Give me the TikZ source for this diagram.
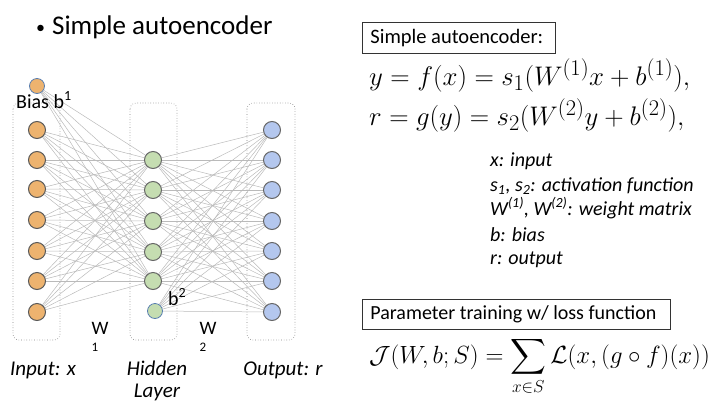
\documentclass[tikz,border=0pt]{standalone}
\usepackage{fontspec}
\setmainfont{Carlito}
\usepackage{amsmath}
\usepackage{graphicx}
\pgfdeclarelayer{bg}
\pgfsetlayers{bg,main}
\begin{document}
\begin{tikzpicture}[x=1pt,y=-1pt,
  inp/.style={circle,draw=black!65,line width=1pt,minimum size=17pt,inner sep=0pt},
  hid/.style={circle,draw=black!60,line width=1pt,minimum size=17pt,inner sep=0pt},
  outn/.style={circle,draw=black!60,line width=1pt,minimum size=17pt,inner sep=0pt},
  bias/.style={circle,draw=biasborder,line width=0.8pt,minimum size=15pt,inner sep=0pt},
  edge/.style={draw=black!27,line width=0.5pt},
  layerbox/.style={draw=black!50,dotted,rounded corners=6pt,line width=0.6pt},
  lbl/.style={font=\fontsize{21}{22}\selectfont\itshape,inner sep=0pt},
  wlbl/.style={font=\fontsize{19}{20}\selectfont,inner sep=0pt},
  titlebox/.style={draw=black!80,line width=0.8pt,inner xsep=8pt,inner ysep=0pt,font=\fontsize{20.5}{22}\selectfont,anchor=north west},
  note/.style={font=\fontsize{20}{22}\selectfont\itshape,inner sep=0pt,anchor=base west},
  eq/.style={inner sep=0pt,anchor=base west,font=\fontsize{24.88}{28}\selectfont}
]
\definecolor{inpfill}{HTML}{EDB36F}
\definecolor{hidfill}{HTML}{C5DDB1}
\definecolor{outfill}{HTML}{B4C7EE}
\definecolor{biasborder}{HTML}{5A7FB0}
\useasboundingbox (0,0) rectangle (713,408);

% title
\node[anchor=base west,inner sep=0pt,font=\fontsize{27}{30}\selectfont] (title) at (36,34) {\raisebox{1pt}{\fontsize{18}{18}\selectfont•}\hspace{7pt}Simple autoencoder};

% nodes
\node[bias,fill=inpfill] (b1) at (37,86) {};
\foreach \i/\y in {1/130,2/160,3/189,4/220,5/251,6/281,7/312}
  \node[inp,fill=inpfill] (i\i) at (37,\y) {};
\foreach \i/\y in {1/160,2/190,3/221,4/252,5/281}
  \node[hid,fill=hidfill] (h\i) at (153,\y) {};
\node[bias,fill=hidfill] (b2) at (155,311) {};
\foreach \i/\y in {1/130,2/160,3/190,4/221,5/251,6/281,7/312}
  \node[outn,fill=outfill] (o\i) at (272,\y) {};

\begin{pgfonlayer}{bg}
% layer boxes
\draw[layerbox] (13,103) rectangle (60,340);
\draw[layerbox] (130,103) rectangle (177,340);
\draw[layerbox] (247,103) rectangle (295,340);
% edges
\foreach \a in {b1,i1,i2,i3,i4,i5,i6,i7}
  \foreach \b in {h1,h2,h3,h4,h5}
    \draw[edge] (\a) -- (\b);
\foreach \a in {h1,h2,h3,h4,h5,b2}
  \foreach \b in {o1,o2,o3,o4,o5,o6,o7}
    \draw[edge] (\a) -- (\b);
\end{pgfonlayer}

% labels
\node[font=\fontsize{20}{22}\selectfont,inner sep=0pt,anchor=base west] (bl1) at (16,108) {Bias b\textsuperscript{1}};
\node[font=\fontsize{20}{22}\selectfont,inner sep=0pt,anchor=base west] (bl2) at (168,305) {b\textsuperscript{2}};
\node[wlbl,anchor=base] (w1) at (100,334) {W};
\node[font=\fontsize{13}{14}\selectfont,inner sep=0pt,anchor=base] (w1s) at (95,351) {1};
\node[wlbl,anchor=base] (w2) at (208,334) {W};
\node[font=\fontsize{13}{14}\selectfont,inner sep=0pt,anchor=base] (w2s) at (203,351) {2};
\node[lbl,anchor=base] (lin) at (43,375) {Input: x};
\node[lbl,anchor=base] (lhid) at (157,375) {Hidden};
\node[lbl,anchor=base] (llay) at (157,397) {Layer};
\node[lbl,anchor=base] (lout) at (283,375) {Output: r};

% right side
\node[titlebox,minimum height=31pt] (box1) at (362,22) {\makebox[177pt][l]{Simple autoencoder:}};
\node[eq] (eq1) at (369,85) {\scalebox{1.08}{$y = f(x) = s_1(W^{(1)}x + b^{(1)}),$}};
\node[eq] (eq2) at (369,125) {\scalebox{1.08}{$r = g(y) = s_2(W^{(2)}y + b^{(2)}),$}};
\node[note] (n1) at (490,166) {x: input};
\node[note] (n2) at (490,191) {s\textsubscript{1}, s\textsubscript{2}: activation function};
\node[note] (n3) at (490,215) {W\textsuperscript{(1)}, W\textsuperscript{(2)}: weight matrix};
\node[note] (n4) at (490,241) {b: bias};
\node[note] (n5) at (490,264) {r: output};

\node[titlebox,minimum height=30pt,font=\fontsize{20}{22}\selectfont] (box2) at (362,299) {\makebox[292pt][l]{Parameter training w/ loss function}};
\node[eq,font=\fontsize{24.7}{28}\selectfont] (eq3) at (369,363) {$\displaystyle \mathcal{J}(W,b;S) = \sum_{x\in S}\mathcal{L}(x,(g\circ f)(x))$};
\end{tikzpicture}
\end{document}
